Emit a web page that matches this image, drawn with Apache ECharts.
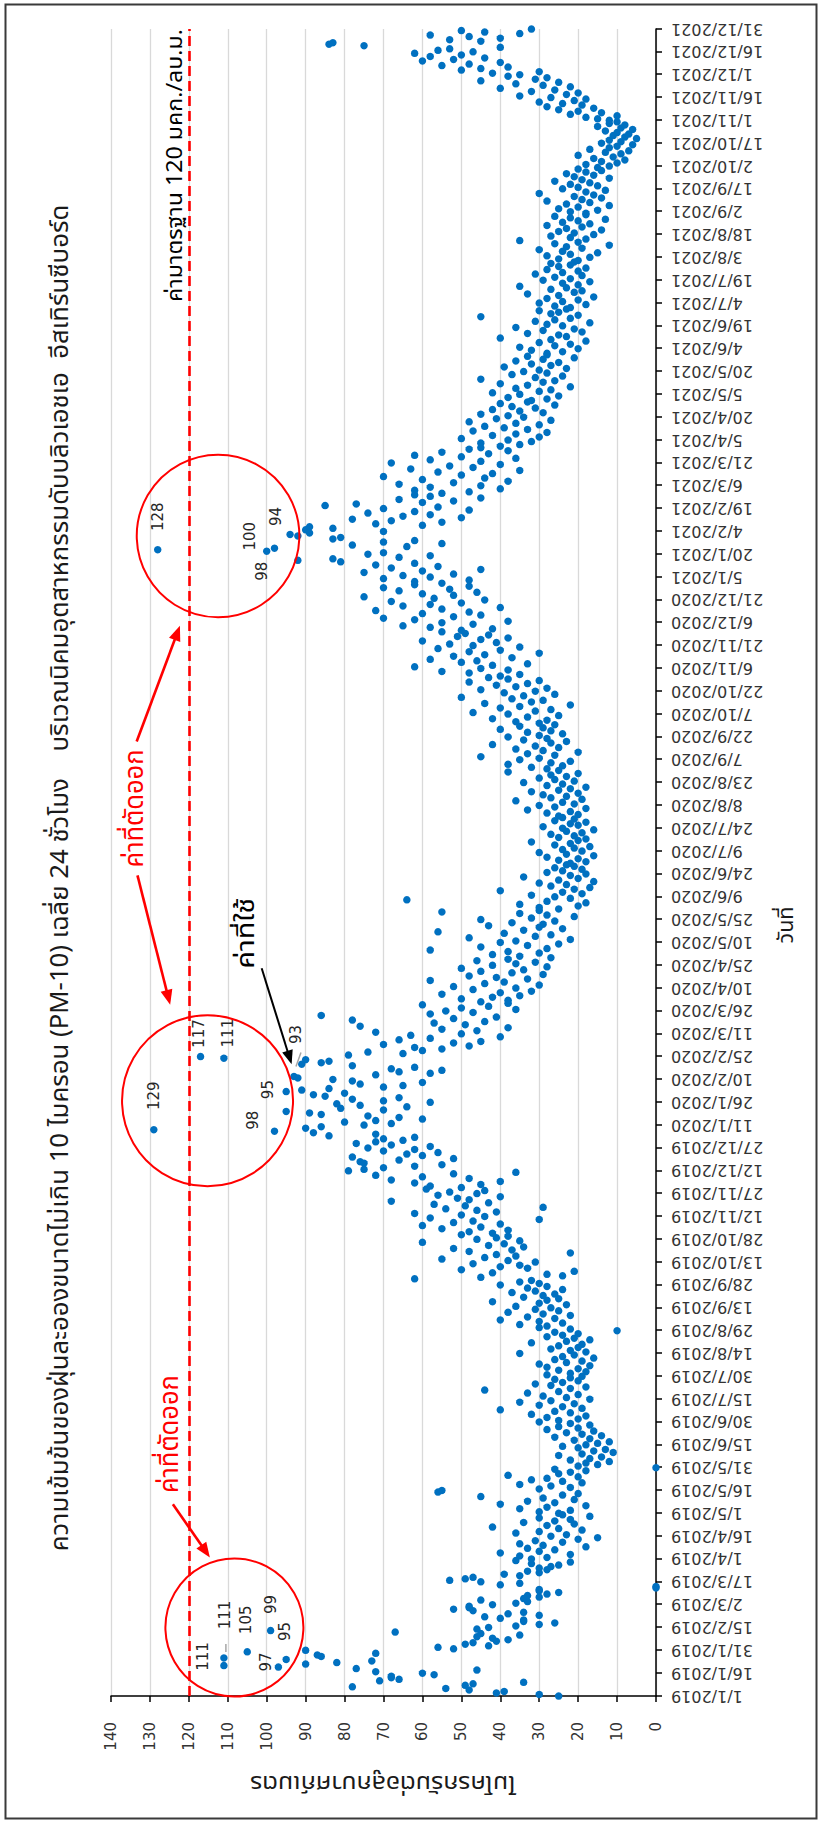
<!DOCTYPE html>
<html><head><meta charset="utf-8">
<script src="https://cdn.jsdelivr.net/npm/echarts@6/dist/echarts.min.js"></script>
<style>
html,body{margin:0;padding:0;background:#fff;overflow:hidden;width:822px;height:1821px;}
#chart{position:absolute;left:0;top:0;width:1821px;height:822px;transform-origin:0 0;transform:translate(0px,1821px) rotate(-90deg);background:#fff;}
</style></head><body><div id="chart"></div>
<script>
const chartTitle = 'ความเข้มข้นของฝุ่นละอองขนาดไม่เกิน 10 ไมครอน (PM-10) เฉลี่ย 24 ชั่วโมง    บริเวณนิคมอุตสาหกรรมดับบลิวเอชเอ  อีสเทิร์นซีบอร์ด';
const yAxisTitle = 'ไมโครกรัมต่อลูกบาศก์เมตร';
const xAxisTitle = 'วันที่';
const standardValue = 120;
const standardText = 'ค่ามาตรฐาน 120 มคก./ลบ.ม.';
const cutText = 'ค่าที่ตัดออก';
const usedText = 'ค่าที่ใช้';
const yTicks = [0, 140, 10];

const v2019_01 = [25,30,41,39,48,54,78,49,47,34,71,66,68,68,57,60,72,46,77,97,111,90,82,73,95,111,86,87,72,105,90];
const v2019_02 = [52,56,43,49,47,41,38,42,46,35,45,67,99,46,43,36,30,26,34,34,40,44,30,38,34,47,52,48];
const v2019_03 = [48,42,36,33,45,34,30,33,28,25,30,30,0,0,40,35,45,53,49,47,35,39,30,33,28,30,27,25,32,22,36];
const v2019_04 = [32,28,35,22,40,30,26,33,18,29,35,24,31,20,15,27,23,36,30,19,25,42,28,21,34,26,22,30,17,24];
const v2019_05 = [25,30,22,35,28,18,40,26,33,21,29,45,24,20,56,55,30,22,27,35,19,24,32,28,20,38,25,22,18,26,0];
const v2019_06 = [20,15,18,12,22,17,14,25,19,11,16,13,20,24,18,15,12,21,17,26,14,19,23,16,28,20,25,17,22,30];
const v2019_07 = [25,20,28,18,32,22,26,40,19,24,30,21,35,27,17,23,29,20,33,25,44,22,18,27,31,24,20,26,22,19,28];
const v2019_08 = [22,18,25,20,28,17,30,23,19,26,16,24,21,35,18,22,27,20,25,19,32,23,17,21,28,24,20,26,10,22,30];
const v2019_09 = [28,35,24,30,40,26,33,22,29,38,25,31,27,36,23,30,42,28,25,34,29,26,37,31,24,33,28,40,30,35];
const v2019_10 = [32,62,45,24,28,42,21,50,33,40,35,47,31,38,55,44,36,41,22,48,37,52,34,43,39,60,35,46,41,38,50];
const v2019_11 = [42,48,38,55,45,60,40,52,47,30,58,44,50,62,41,46,54,29,49,57,43,68,48,51,40,56,46,53,44,59];
const v2019_12 = [50,58,45,62,40,68,48,60,72,52,36,79,75,70,62,55,75,76,66,52,78,60,64,56,70,62,74,58,68,77,72];
const v2020_01 = [65,70,62,84,72,88,98,129,90,86,75,68,80,72,60,66,74,86,89,95,70,81,64,76,82,58,70,78,66,85,88];
const v2020_02 = [80,95,91,84,70,65,76,60,78,83,92,93,72,58,66,55,68,62,78,91,86,84,90,111,117,79,65,74,60];
const v2020_03 = [55,62,48,70,52,45,66,58,40,63,50,72,46,55,38,76,49,57,44,78,52,41,86,58,47,54,36,50,43,60,38];
const v2020_04 = [45,38,50,42,35,55,40,32,47,36,52,30,44,39,58,33,41,48,29,37,45,34,50,28,42,36,31,46,38,27];
const v2020_05 = [35,42,30,38,58,28,45,33,25,40,36,22,48,31,27,39,56,34,24,30,43,29,37,26,45,32,21,28,35,55,30];
const v2020_06 = [25,30,20,35,18,28,64,22,26,32,19,24,40,21,17,27,23,30,16,25,20,34,22,18,28,24,19,26,21,23];
const v2020_07 = [22,18,25,20,28,16,23,30,19,24,21,17,26,22,32,20,18,25,21,27,19,23,16,24,29,20,22,18,26,21,24];
const v2020_08 = [25,20,28,22,33,18,26,30,21,24,36,19,27,23,29,20,32,25,22,18,28,24,34,21,26,30,23,27,20,38,25];
const v2020_09 = [28,32,24,38,27,22,35,30,45,26,33,20,29,36,25,31,42,27,23,34,28,38,30,24,33,27,40,29,35,26];
const v2020_10 = [30,36,28,42,33,25,38,47,31,27,40,35,22,44,32,29,37,50,34,26,39,31,45,28,36,41,33,48,30,38,43];
const v2020_11 = [40,35,48,55,38,45,62,42,33,50,46,58,37,52,44,30,48,40,56,35,47,53,41,60,45,38,51,43,49,55];
const v2020_12 = [50,42,58,65,47,55,38,62,70,52,45,60,48,72,55,40,65,58,50,68,44,57,75,52,60,46,66,53,70,48,62];
const v2021_01 = [55,62,48,70,58,65,52,75,60,45,68,56,72,62,81,92,83,66,58,74,70,100,128,98,64,78,55,70,62,83,81];
const v2021_02 = [92,94,89,70,90,83,89,60,72,55,68,78,50,65,58,74,62,48,70,56,85,77,60,52,66,45,58,62];
const v2021_03 = [55,48,62,40,58,45,66,52,38,60,44,70,50,42,56,35,63,47,53,40,68,45,58,36,50,62,43,55,38,48,45];
const v2021_04 = [40,35,45,32,38,50,30,42,36,28,47,33,39,44,30,36,48,27,41,34,38,45,29,35,42,31,37,26,40,33];
const v2021_05 = [32,28,38,25,35,42,30,27,36,22,33,40,29,26,45,31,24,37,28,34,30,23,39,27,32,25,36,29,21,33,28];
const v2021_06 = [28,24,32,20,35,26,22,30,18,27,40,23,25,33,19,29,21,36,24,28,17,31,26,22,45,20,27,25,30,23];
const v2021_07 = [22,26,18,30,24,20,28,16,25,33,21,19,27,23,35,20,24,17,29,22,26,19,31,24,20,28,18,25,22,27,21];
const v2021_08 = [20,25,17,28,22,15,24,30,19,23,12,26,20,35,18,22,27,16,21,25,14,23,19,28,17,24,20,13,22,26,18];
const v2021_09 = [18,22,15,25,20,12,23,17,28,19,14,21,16,30,18,13,24,20,15,22,17,26,19,12,21,16,23,18,14,20];
const v2021_10 = [15,12,18,10,14,8,16,11,20,9,13,7,17,12,10,6,14,9,12,5,8,11,7,10,13,6,9,15,8,12,10];
const v2021_11 = [12,15,18,10,22,14,20,25,16,28,19,24,30,21,18,27,35,23,20,32,26,40,22,29,36,25,45,31,28,38];
const v2021_12 = [35,42,30,50,45,38,55,48,40,60,52,44,58,50,62,47,56,53,40,75,84,83,45,53,40,48,58,35,44,50,32];

// dates whose values carry a data label
const labelledDates = ['20/1/2019','21/1/2019','25/1/2019','26/1/2019','30/1/2019','13/2/2019',
  '7/1/2020','8/1/2020','2/2/2020','12/2/2020','24/2/2020','25/2/2020',
  '22/1/2021','23/1/2021','24/1/2021','2/2/2021'];
// labels moved away from their point, drawn with a leader line
const leaderDates = ['26/1/2019', '12/2/2020'];

const monthly = [
  [2019,1,v2019_01],[2019,2,v2019_02],[2019,3,v2019_03],[2019,4,v2019_04],[2019,5,v2019_05],[2019,6,v2019_06],
  [2019,7,v2019_07],[2019,8,v2019_08],[2019,9,v2019_09],[2019,10,v2019_10],[2019,11,v2019_11],[2019,12,v2019_12],
  [2020,1,v2020_01],[2020,2,v2020_02],[2020,3,v2020_03],[2020,4,v2020_04],[2020,5,v2020_05],[2020,6,v2020_06],
  [2020,7,v2020_07],[2020,8,v2020_08],[2020,9,v2020_09],[2020,10,v2020_10],[2020,11,v2020_11],[2020,12,v2020_12],
  [2021,1,v2021_01],[2021,2,v2021_02],[2021,3,v2021_03],[2021,4,v2021_04],[2021,5,v2021_05],[2021,6,v2021_06],
  [2021,7,v2021_07],[2021,8,v2021_08],[2021,9,v2021_09],[2021,10,v2021_10],[2021,11,v2021_11],[2021,12,v2021_12]
];

// category axis: every day 1/1/2019 .. 31/12/2021
const dates = [];
for (let t = Date.UTC(2019,0,1); t <= Date.UTC(2021,11,31); t += 86400000) {
  const d = new Date(t);
  dates.push(d.getUTCDate() + '/' + (d.getUTCMonth()+1) + '/' + d.getUTCFullYear());
}

// label placement (style)
const labelOffsets = {
  '20/1/2019':[5,-12],'21/1/2019':[9,-21],'25/1/2019':[28,-1],'26/1/2019':[43,1],'30/1/2019':[32,-1],'13/2/2019':[26,0],
  '7/1/2020':[11,-22],'8/1/2020':[34,0],'2/2/2020':[2,-18],'12/2/2020':[42,2],'24/2/2020':[25,4],'25/2/2020':[23,-2],
  '22/1/2021':[15,-17],'23/1/2021':[33,0],'24/1/2021':[-23,-13],'2/2/2021':[18,-14]
};
const leaderStyle = { '26/1/2019': [[6,2],[14,2]], '12/2/2020': [[10,2],[24,7]] };

const points = [];
const valueByDate = {};
monthly.forEach(([y,m,arr]) => {
  arr.forEach((v,i) => {
    const ds = (i+1) + '/' + m + '/' + y;
    valueByDate[ds] = v;
    const item = { value: [ds, v] };
    if (labelledDates.indexOf(ds) >= 0) {
      item.label = { show: true, position: 'inside', offset: labelOffsets[ds] || [20,0],
        formatter: String(v), color: '#262626', fontSize: 15, fontFamily: 'DejaVu Sans' };
    }
    points.push(item);
  });
});

const thaiFont = "'Noto Sans Thai','Noto Sans','DejaVu Sans',sans-serif";
const mctx = document.createElement('canvas').getContext('2d');
function textW(text, size) { mctx.font = size + 'px ' + thaiFont; return mctx.measureText(text).width || 1; }
function fitScale(text, size, target) { return target / textW(text, size); }
const titleSize = 24 * fitScale(chartTitle, 24, 1347);

const chart = echarts.init(document.getElementById('chart'), null, {renderer: 'svg'});

chart.setOption({
  animation: false,
  backgroundColor: '#fff',
  title: {
    text: chartTitle, left: 938, top: 55, textAlign: 'center', textVerticalAlign: 'middle',
    textStyle: { fontSize: titleSize, fontWeight: 'normal', color: '#1a1a1a', fontFamily: thaiFont }
  },
  grid: { left: 125, right: 29, top: 111, bottom: 166, containLabel: false },
  xAxis: {
    type: 'category', data: dates, boundaryGap: false,
    axisLine: { show: true, lineStyle: { color: '#000', width: 1.5 } },
    axisTick: { show: true, interval: 14, length: 6, lineStyle: { color: '#000', width: 1.5 } },
    axisLabel: { interval: 14, rotate: 90, fontSize: 16, color: '#333', margin: 15, fontFamily: 'DejaVu Sans' },
    splitLine: { show: false }
  },
  yAxis: {
    type: 'value', min: yTicks[0], max: yTicks[1], interval: yTicks[2],
    axisLine: { show: true, lineStyle: { color: '#000', width: 1.5 } },
    axisTick: { show: true, length: 6, lineStyle: { color: '#000', width: 1.5 } },
    axisLabel: { fontSize: 15, color: '#333', margin: 26, fontFamily: 'DejaVu Sans' },
    splitLine: { show: true, lineStyle: { color: '#d9d9d9', width: 1.3 } }
  },
  series: [{
    type: 'scatter', data: points, symbol: 'circle', symbolSize: 7.5,
    itemStyle: { color: '#0070C0', opacity: 1 },
    z: 3,
    markLine: {
      silent: true, symbol: 'none', animation: false,
      label: { show: false },
      lineStyle: { color: '#FF0000', type: [10, 5], width: 2.6 },
      data: [{ yAxis: standardValue }]
    }
  }]
});

// annotations anchored to data coordinates
function px(day, val) { return chart.convertToPixel({gridIndex: 0}, [day, val]); }
function arrow(a, b, color, w, head, hw) {
  const dx = b[0]-a[0], dy = b[1]-a[1], L = Math.sqrt(dx*dx+dy*dy);
  const ux = dx/L, uy = dy/L, nx = -uy, ny = ux;
  const bx = b[0]-ux*head, by = b[1]-uy*head;
  return [
    { type: 'line', z: 20, shape: { x1: a[0], y1: a[1], x2: bx+ux*2, y2: by+uy*2 }, style: { stroke: color, lineWidth: w } },
    { type: 'polygon', z: 20, shape: { points: [[b[0],b[1]],[bx+nx*hw,by+ny*hw],[bx-nx*hw,by-ny*hw]] }, style: { fill: color } }
  ];
}
function label(text, pos, size, width, color, align, rot) {
  return { type: 'text', z: 21, x: pos[0], y: pos[1], rotation: rot || 0, scaleX: fitScale(text, size, width),
    style: { text: text, fill: color, fontSize: size, fontFamily: thaiFont, textAlign: align || 'center', textVerticalAlign: 'middle' } };
}
const g = [];
g.push({ type: 'rect', z: 30, shape: { x: 2.5, y: 5.5, width: 1814, height: 811 }, style: { fill: 'none', stroke: '#3a3a3a', lineWidth: 2 } });
[[45,108.3,69],[391,115.2,85.5],[762,112.5,81.3]].forEach(([d,v,r]) => {
  const c = px(d,v);
  g.push({ type: 'circle', z: 20, shape: { cx: c[0], cy: c[1], r: r }, style: { fill: 'none', stroke: '#FF0000', lineWidth: 2 } });
});
leaderDates.forEach(ds => {
  const p = chart.convertToPixel({gridIndex: 0}, [ds, valueByDate[ds]]);
  const s = leaderStyle[ds];
  g.push({ type: 'line', z: 19, shape: { x1: p[0]+s[0][0], y1: p[1]+s[0][1], x2: p[0]+s[1][0], y2: p[1]+s[1][1] },
    style: { stroke: '#a6a6a6', lineWidth: 1.5 } });
});
g.push(label(cutText, px(172, 124.8), 26, 118, '#FF0000'));
g.push(label(cutText, px(583, 133.8), 26, 118, '#FF0000'));
arrow(px(126,124.1), px(91,114.6), '#FF0000', 2.6, 15, 6).forEach(e => g.push(e));
arrow(px(627,133.4), px(703,122.3), '#FF0000', 2.6, 15, 6).forEach(e => g.push(e));
arrow(px(539,133.2), px(454,124.8), '#FF0000', 2.6, 15, 6).forEach(e => g.push(e));
g.push(label(usedText, px(501, 105.1), 24, 71, '#000'));
arrow(px(478,101.3), px(415,93.6), '#000', 2, 14, 5.5).forEach(e => g.push(e));
g.push(label(standardText, px(1095, 123.4), 22, 273, '#000', 'right'));
g.push(label(yAxisTitle, [38, 383], 23, 266, '#1a1a1a', 'center', Math.PI/2));
g.push(label(xAxisTitle, [896, 787], 21, 37, '#1a1a1a', 'center'));
chart.setOption({ graphic: g });
</script></body></html>
